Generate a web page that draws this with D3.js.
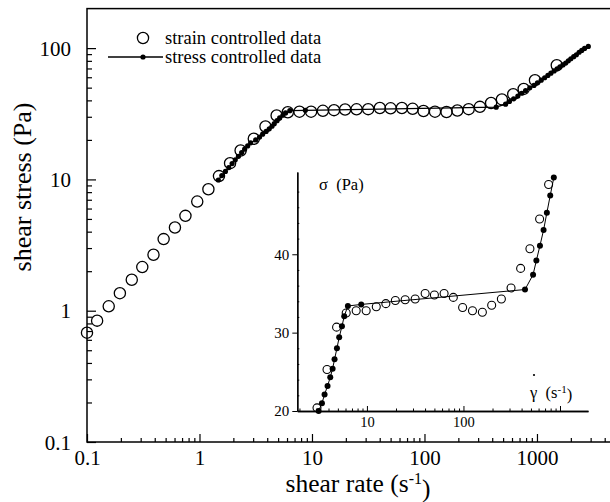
<!DOCTYPE html>
<html>
<head>
<meta charset="utf-8">
<script src="https://cdn.jsdelivr.net/npm/d3@7"></script>
<style>
  body { margin: 0; background: #fff; }
  text { font-family: "Liberation Serif", "Times New Roman", serif; fill: #000; }
</style>
</head>
<body>
<div id="chart"></div>
<script>
// strain controlled data: [shear rate (1/s), shear stress (Pa)]
const strainRate = [0.1, 0.123, 0.156, 0.196, 0.25, 0.31, 0.39, 0.48, 0.605, 0.75, 0.955, 1.2, 1.49, 1.87, 2.32,
  3.04, 3.86, 4.85, 6.1, 7.74, 9.82, 12.5, 15.7, 19.7, 24.9, 31.6, 40.1, 50, 63, 78.5, 98, 124, 157, 196, 247,
  311, 391, 488, 615, 762, 960, 1500];
const strainStress = [0.68, 0.84, 1.08, 1.36, 1.72, 2.15, 2.67, 3.51, 4.3, 5.28, 6.78, 8.42, 10.6, 13.3, 16.6,
  20.4, 25.3, 30.7, 32.5, 32.8, 32.8, 33.3, 33.7, 34.1, 34.2, 34.3, 35.0, 34.8, 35.0, 34.5, 33.2, 32.8, 32.6, 33.5, 34.3,
  35.7, 38.2, 40.7, 44.5, 48.9, 57, 74];

// stress controlled data
const stressRate = [1.47, 1.58, 1.70, 1.82, 1.95, 2.08, 2.22, 2.37, 2.52, 2.68, 2.85,
  3.16, 3.42, 3.64, 3.91, 4.17, 4.41, 4.62, 4.89, 5.16, 5.51, 5.82, 6.35, 8.73,
  434, 526, 569, 620, 676, 731, 792, 863,
  940, 1010, 1090, 1170, 1250, 1330, 1420, 1510, 1600, 1700, 1800, 1900, 2000, 2120, 2240, 2370, 2500, 2650, 2860];
const stressStress = [9.9, 10.7, 11.5, 12.3, 13.2, 14.1, 15.0, 16.0, 17.0, 18.0, 19.0,
  20.0, 21.0, 22.1, 23.2, 24.3, 25.4, 26.6, 28.0, 29.4, 30.8, 32.1, 33.4, 33.6,
  35.5, 37.4, 39.2, 41.1, 43.1, 45.3, 47.5, 49.8,
  52, 54.5, 57, 59.5, 62, 64.5, 67, 69.5, 72, 74.5, 77, 80, 83, 86, 89, 93, 96, 99.5, 103];

const xTicksMain = [0.1, 1, 10, 100, 1000];
const yTicksMain = [0.1, 1, 10, 100];
const xTicksInset = [10, 100, 1000];
const xLabelsInset = [10, 100];
const yTicksInset = [20, 30, 40];

const strain = strainRate.map((r, i) => ({ r: r, s: strainStress[i] }));
const stress = stressRate.map((r, i) => ({ r: r, s: stressStress[i] }));

const W = 610, H = 502;
const svg = d3.select('#chart').append('svg')
  .attr('width', W).attr('height', H);

// ---------- main plot ----------
const x = d3.scaleLog().domain([0.1, 5000]).range([87, 615.6]);
const y = d3.scaleLog().domain([0.1, 200]).range([442, 8.6]);

function minorTicks(scale) {
  const [a, b] = scale.domain();
  const out = [];
  for (let e = Math.floor(Math.log10(a)); e <= Math.ceil(Math.log10(b)); e++) {
    for (let k = 2; k <= 9; k++) {
      const v = k * Math.pow(10, e);
      if (v > a && v < b) out.push(v);
    }
  }
  return out;
}

const main = svg.append('g');

// frame
main.append('rect')
  .attr('x', x.range()[0]).attr('y', y.range()[1])
  .attr('width', x.range()[1] - x.range()[0])
  .attr('height', y.range()[0] - y.range()[1])
  .attr('fill', 'none').attr('stroke', '#000').attr('stroke-width', 1.5);

const xAxis = main.append('g')
  .attr('transform', 'translate(0,' + y.range()[0] + ')')
  .call(d3.axisBottom(x).tickValues(xTicksMain).tickSizeInner(-8).tickSizeOuter(0)
    .tickPadding(8).tickFormat(d => d3.format('~g')(d)));
main.append('g')
  .attr('transform', 'translate(0,' + y.range()[0] + ')')
  .call(d3.axisBottom(x).tickValues(minorTicks(x)).tickSizeInner(-4).tickSizeOuter(0).tickFormat(''));

const yAxis = main.append('g')
  .attr('transform', 'translate(' + x.range()[0] + ',0)')
  .call(d3.axisLeft(y).tickValues(yTicksMain).tickSizeInner(-9).tickSizeOuter(0)
    .tickPadding(16).tickFormat(d => d3.format('~g')(d)));
main.append('g')
  .attr('transform', 'translate(' + x.range()[0] + ',0)')
  .call(d3.axisLeft(y).tickValues(minorTicks(y)).tickSizeInner(-5).tickSizeOuter(0).tickFormat(''));

main.selectAll('.domain').remove();
main.selectAll('.tick line').attr('stroke', '#000').attr('stroke-width', 1.2);
xAxis.selectAll('text').style('font-size', '21px');
yAxis.selectAll('text').style('font-size', '21px').attr('dy', '0.34em');

// strain controlled (open circles)
main.append('g').selectAll('circle')
  .data(strain).join('circle')
  .attr('cx', d => x(d.r)).attr('cy', d => y(d.s)).attr('r', 5.6)
  .attr('fill', 'none').attr('stroke', '#000').attr('stroke-width', 1.3);

// stress controlled (line + dots)
main.append('path')
  .datum(stress)
  .attr('d', d3.line().x(d => x(d.r)).y(d => y(d.s)))
  .attr('fill', 'none').attr('stroke', '#000').attr('stroke-width', 1.3);
main.append('g').selectAll('circle')
  .data(stress).join('circle')
  .attr('cx', d => x(d.r)).attr('cy', d => y(d.s)).attr('r', 2.6)
  .attr('fill', '#000');

// legend
const leg = main.append('g');
leg.append('circle').attr('cx', 143).attr('cy', 38).attr('r', 5.6)
  .attr('fill', 'none').attr('stroke', '#000').attr('stroke-width', 1.3);
leg.append('text').attr('x', 165).attr('y', 44).style('font-size', '18.5px').text('strain controlled data');
leg.append('line').attr('x1', 108).attr('x2', 163).attr('y1', 57).attr('y2', 57)
  .attr('stroke', '#000').attr('stroke-width', 1.3);
leg.append('circle').attr('cx', 143).attr('cy', 57).attr('r', 2.6).attr('fill', '#000');
leg.append('text').attr('x', 165).attr('y', 63).style('font-size', '18.5px').text('stress controlled data');

// axis titles
const xt = svg.append('text').attr('x', 358).attr('y', 492)
  .attr('text-anchor', 'middle').style('font-size', '25.5px');
xt.append('tspan').text('shear rate (s');
xt.append('tspan').attr('dy', '-0.5em').style('font-size', '16px').text('-1');
xt.append('tspan').attr('dy', '0.5em').text(')');

svg.append('text')
  .attr('transform', 'translate(31,187) rotate(-90)')
  .attr('text-anchor', 'middle').style('font-size', '26px')
  .text('shear stress (Pa)');

// ---------- inset ----------
const ix = d3.scaleLog().domain([1.9, 1950]).range([297.3, 588]);
const iy = d3.scaleLinear().domain([20, 50.5]).range([411, 172]);
const inset = svg.append('g');

const inDomain = d => d.r >= ix.domain()[0] && d.r <= ix.domain()[1] && d.s >= 19.9 && d.s <= iy.domain()[1];

const ixAxis = inset.append('g')
  .attr('transform', 'translate(0,' + iy.range()[0] + ')')
  .call(d3.axisBottom(ix).tickValues(xTicksInset).tickSizeInner(-5).tickSizeOuter(0)
    .tickPadding(6).tickFormat(d => xLabelsInset.includes(d) ? d3.format('~g')(d) : ''));
inset.append('g')
  .attr('transform', 'translate(0,' + iy.range()[0] + ')')
  .call(d3.axisBottom(ix).tickValues(minorTicks(ix)).tickSizeInner(-2.5).tickSizeOuter(0).tickFormat(''));

const iyAxis = inset.append('g')
  .attr('transform', 'translate(' + ix.range()[0] + ',0)')
  .call(d3.axisLeft(iy).tickValues(yTicksInset).tickSizeInner(5).tickSizeOuter(0).tickPadding(3));
inset.append('g')
  .attr('transform', 'translate(' + ix.range()[0] + ',0)')
  .call(d3.axisLeft(iy).tickValues(d3.range(22, 51, 2).filter(v => v % 10 !== 0))
    .tickSizeInner(-2).tickSizeOuter(0).tickFormat(''));

inset.selectAll('.domain').attr('stroke', '#000').attr('stroke-width', 1.3);
inset.selectAll('.tick line').attr('stroke', '#000');
ixAxis.selectAll('text').style('font-size', '14.5px');
iyAxis.selectAll('text').style('font-size', '15px');

inset.append('g').selectAll('circle')
  .data(strain.filter(inDomain)).join('circle')
  .attr('cx', d => ix(d.r)).attr('cy', d => iy(d.s)).attr('r', 4)
  .attr('fill', 'none').attr('stroke', '#000').attr('stroke-width', 1.1);

const stressIn = stress.filter(inDomain);
inset.append('path')
  .datum(stressIn)
  .attr('d', d3.line().x(d => ix(d.r)).y(d => iy(d.s)))
  .attr('fill', 'none').attr('stroke', '#000').attr('stroke-width', 1);
inset.append('g').selectAll('circle')
  .data(stressIn).join('circle')
  .attr('cx', d => ix(d.r)).attr('cy', d => iy(d.s)).attr('r', 3)
  .attr('fill', '#000');

inset.append('text').attr('x', 319).attr('y', 190).style('font-size', '16.5px')
  .attr('xml:space', 'preserve').text('σ  (Pa)');
// gamma-dot label (the overdot drawn as a small mark)
const gl = inset.append('text').attr('x', 530).attr('y', 398).style('font-size', '16.5px')
  .attr('xml:space', 'preserve');
gl.append('tspan').text('γ  (s');
gl.append('tspan').attr('dy', '-0.45em').style('font-size', '11px').text('-1');
gl.append('tspan').attr('dy', '0.45em').text(')');
inset.append('circle').attr('cx', 534).attr('cy', 375).attr('r', 1.1).attr('fill', '#000');
</script>
</body>
</html>
